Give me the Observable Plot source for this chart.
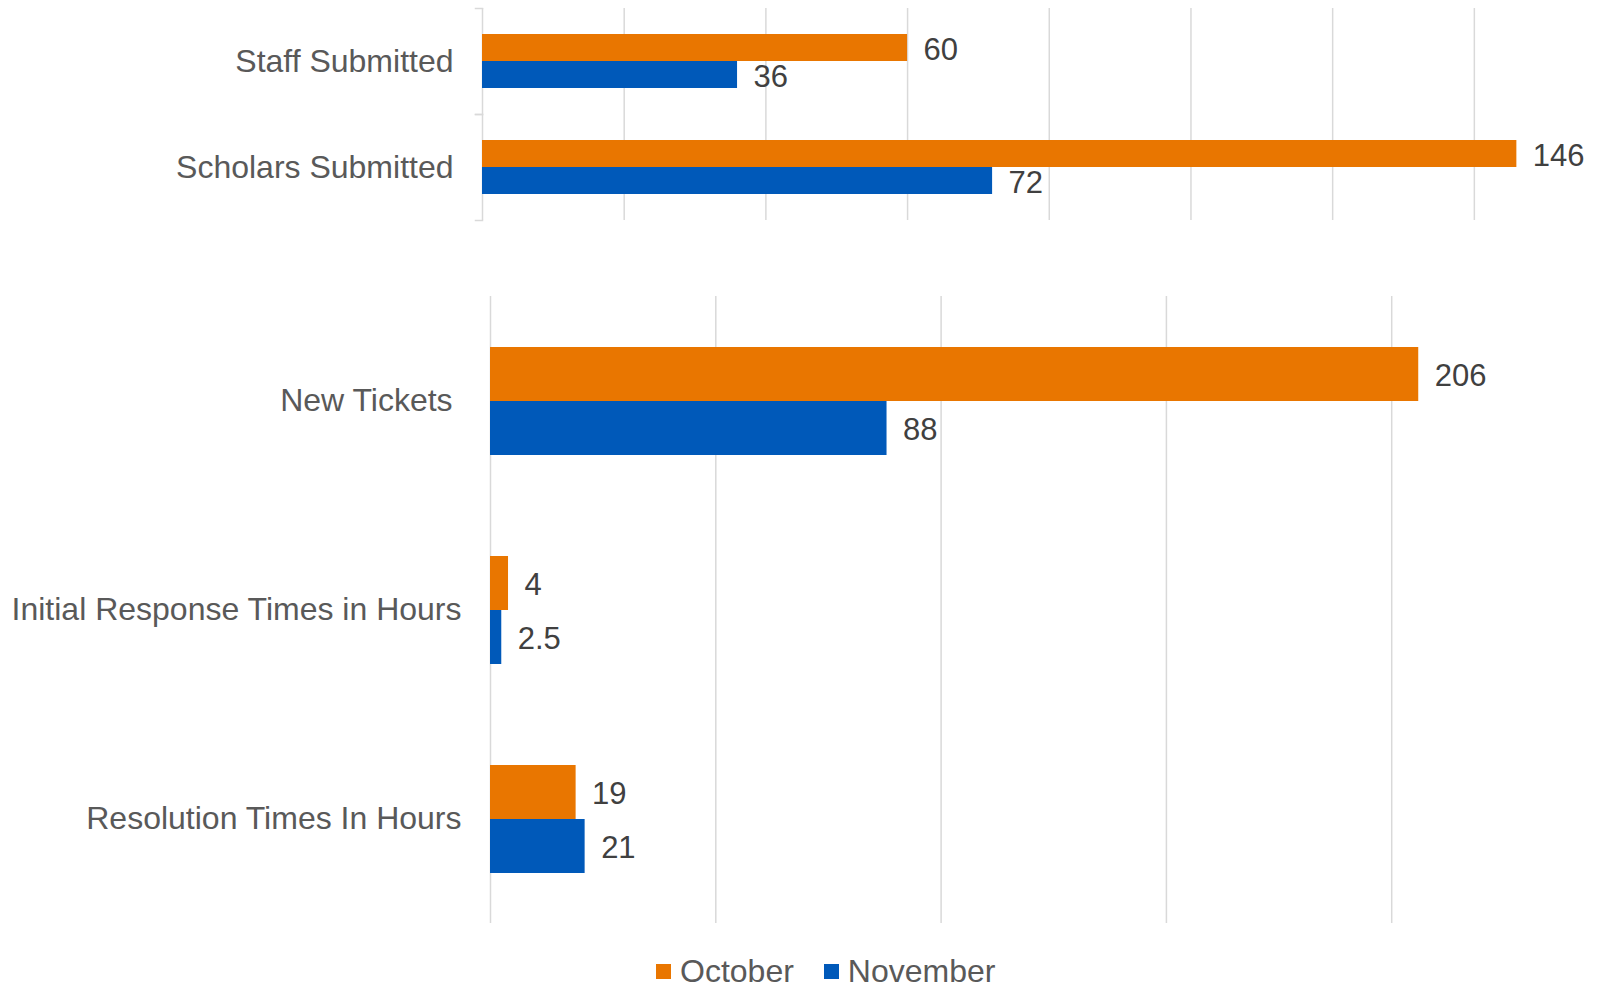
<!DOCTYPE html>
<html><head><meta charset="utf-8">
<script src="https://cdn.jsdelivr.net/npm/d3@7"></script>
<script src="https://cdn.jsdelivr.net/npm/@observablehq/plot@0.6"></script>
<style>
html,body{margin:0;padding:0;background:#fff;width:1612px;height:992px;overflow:hidden;font-family:"Liberation Sans",Arial,sans-serif;}
#top{position:absolute;left:0;top:0;}
#bottom{position:absolute;left:0;top:250px;}
#legend{position:absolute;left:656px;top:953px;height:36px;line-height:36px;display:flex;align-items:center;font-size:32px;color:#595959;}
.item{display:flex;align-items:center;margin-right:30px;height:36px;}
.sw{width:15px;height:15px;margin-right:9px;}
</style></head><body>
<div id="top"></div><div id="bottom"></div><div id="legend"></div>
<script>
const series = ["October", "November"];
const seriesColors = ["#E97600", "#0059B9"];
const topCategories = ["Staff Submitted", "Scholars Submitted"];
const topOctober = [60, 146];
const topNovember = [36, 72];
const topTicks = [0, 20, 40, 60, 80, 100, 120, 140];
const bottomCategories = ["New Tickets", "Initial Response Times in Hours", "Resolution Times In Hours"];
const bottomOctober = [206, 4, 19];
const bottomNovember = [88, 2.5, 21];
const bottomTicks = [0, 50, 100, 150, 200];

function rows(cats, oct, nov) {
  return cats.flatMap((c, i) => [
    {category: c, series: series[0], value: oct[i]},
    {category: c, series: series[1], value: nov[i]}
  ]);
}
const font = {fontFamily: "'Liberation Sans', Arial, sans-serif", fontSize: "32px", color: "#595959", background: "transparent"};

function chart({cats, oct, nov, ticks, height, marginLeft, marginTop, marginBottom, xmax, boundaryTicks}) {
  const data = rows(cats, oct, nov);
  const plotW = 1612 - marginLeft;
  const marks = [
    Plot.gridX(ticks, {stroke: "#D9D9D9", strokeOpacity: 1, strokeWidth: 1.5}),
    Plot.barX(data, {x: "value", y: "series", fy: "category", fill: "series"}),
    Plot.text(data, {x: "value", y: "series", fy: "category", text: d => String(d.value), dx: 16, dy: 2, textAnchor: "start", fill: "#404040", fontSize: 31})
  ];
  if (boundaryTicks) {
    marks.push(Plot.frame({anchor: "top", insetLeft: -7, insetRight: plotW, stroke: "#D9D9D9", strokeWidth: 1.5}));
    marks.push(Plot.frame({anchor: "bottom", insetLeft: -7, insetRight: plotW, stroke: "#D9D9D9", strokeWidth: 1.5}));
  }
  return Plot.plot({
    width: 1612, height, marginLeft, marginRight: 0, marginTop, marginBottom,
    style: font,
    x: {domain: [0, xmax], axis: null},
    y: {domain: series, axis: null, paddingInner: 0, paddingOuter: 0.93},
    fy: {domain: cats, padding: 0, label: null, axis: "left", tickSize: 0, tickPadding: 29,
         tickFormat: d => d === "New Tickets" ? d + "\u00a0" : d},
    color: {domain: series, range: seriesColors},
    marks
  });
}

document.getElementById("top").append(chart({cats: topCategories, oct: topOctober, nov: topNovember, ticks: topTicks, height: 250, marginLeft: 482, marginTop: 8, marginBottom: 30, xmax: 159.5, boundaryTicks: true}));
document.getElementById("bottom").append(chart({cats: bottomCategories, oct: bottomOctober, nov: bottomNovember, ticks: bottomTicks, height: 700, marginLeft: 490, marginTop: 46, marginBottom: 27, xmax: 249, boundaryTicks: false}));

const legend = document.getElementById("legend");
series.forEach((s, i) => {
  const item = document.createElement("div");
  item.className = "item";
  const sw = document.createElement("div");
  sw.className = "sw";
  sw.style.background = seriesColors[i];
  const t = document.createElement("span");
  t.textContent = s;
  item.append(sw, t);
  legend.append(item);
});
</script>
</body></html>
